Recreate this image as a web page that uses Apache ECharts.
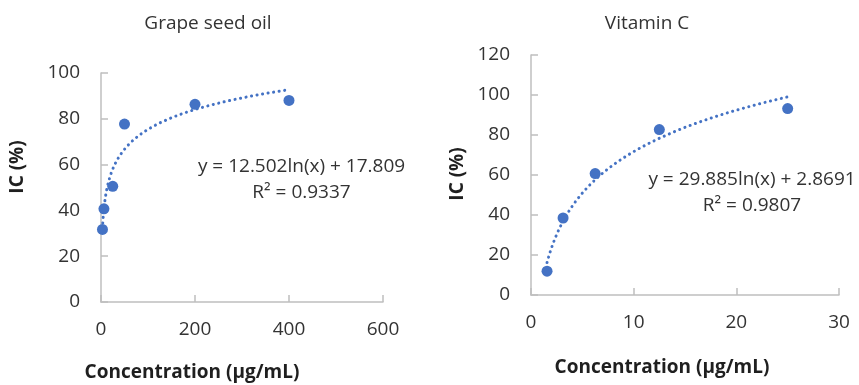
<!DOCTYPE html>
<html>
<head>
<meta charset="utf-8">
<script src="https://cdn.jsdelivr.net/npm/echarts/dist/echarts.min.js"></script>
<style>
html, body { margin: 0; padding: 0; background: #fff; }
#chart { width: 859px; height: 385px; }
</style>
</head>
<body>
<div id="chart"></div>
<script>
// Grape seed oil: concentration (µg/mL) vs IC (%)
const grapeConc = [3.125, 6.25, 25, 50, 200, 400];
const grapeIC = [31.7, 40.7, 50.5, 77.7, 86.3, 88.0];
const grapeFit = [12.502, 17.809]; // y = a ln(x) + b
const grapeR2 = '0.9337';
const grapeXRange = [0, 600, 200];
const grapeYRange = [0, 100, 20];

// Vitamin C
const vitConc = [1.5625, 3.125, 6.25, 12.5, 25];
const vitIC = [11.9, 38.5, 60.7, 82.7, 93.2];
const vitFit = [29.885, 2.8691];
const vitR2 = '0.9807';
const vitXRange = [0, 30, 10];
const vitYRange = [0, 120, 20];

const FONT = 'Open Sans';
const BLUE = '#4472C4';
const TXT = '#333333';

// trendline drawn from the equation printed on the chart, over the data's x span
function trendPoints(fit, xs) {
  const lo = Math.min(...xs), hi = Math.max(...xs);
  const pts = [];
  const n = 120;
  for (let i = 0; i <= n; i++) {
    const x = lo * Math.pow(hi / lo, i / n);
    pts.push([x, fit[0] * Math.log(x) + fit[1]]);
  }
  return pts;
}

function valueAxis(range, gridIndex, margin) {
  return {
    type: 'value',
    gridIndex: gridIndex,
    min: range[0],
    max: range[1],
    interval: range[2],
    axisLine: { show: true, onZero: false, lineStyle: { color: '#bfbfbf', width: 1.5 } },
    axisTick: { show: true, inside: true, length: 7, lineStyle: { color: '#bfbfbf', width: 1.5 } },
    splitLine: { show: false },
    axisLabel: { color: TXT, fontFamily: FONT, fontSize: 19, margin: margin }
  };
}

function txt(text, x, y, opts) {
  return {
    type: 'text',
    x: x,
    y: y,
    rotation: (opts && opts.rotation) || 0,
    style: {
      text: text,
      fill: (opts && opts.fill) || TXT,
      font: ((opts && opts.bold) ? 'bold ' : '') + ((opts && opts.size) || 19) + 'px "' + FONT + '"',
      textAlign: 'center',
      textVerticalAlign: 'middle'
    }
  };
}

function scatter(xs, ys, idx) {
  return {
    type: 'scatter',
    xAxisIndex: idx,
    yAxisIndex: idx,
    symbolSize: 11,
    itemStyle: { color: BLUE, opacity: 1 },
    data: xs.map((x, i) => [x, ys[i]]),
    z: 3
  };
}

function trend(fit, xs, idx) {
  return {
    type: 'line',
    xAxisIndex: idx,
    yAxisIndex: idx,
    showSymbol: false,
    symbol: 'none',
    smooth: false,
    lineStyle: { color: BLUE, width: 3, type: [0.1, 5.5], cap: 'round' },
    data: trendPoints(fit, xs),
    z: 2
  };
}

const myChart = echarts.init(document.getElementById('chart'));
const option = {
  animation: false,
  backgroundColor: '#fff',
  grid: [
    { left: 101, top: 73, width: 282, height: 229 },
    { left: 531, top: 55, width: 308, height: 240 }
  ],
  xAxis: [valueAxis(grapeXRange, 0, 18), valueAxis(vitXRange, 1, 18)],
  yAxis: [valueAxis(grapeYRange, 0, 21), valueAxis(vitYRange, 1, 21)],
  series: [
    trend(grapeFit, grapeConc, 0),
    scatter(grapeConc, grapeIC, 0),
    trend(vitFit, vitConc, 1),
    scatter(vitConc, vitIC, 1)
  ],
  graphic: [
    txt('Grape seed oil', 208, 24),
    txt('Vitamin C', 647, 24),
    txt('IC (%)', 18, 167, { bold: true, rotation: Math.PI / 2, fill: '#1f1f1f' }),
    txt('IC (%)', 458, 174, { bold: true, rotation: Math.PI / 2, fill: '#1f1f1f' }),
    txt('Concentration (µg/mL)', 192, 373, { bold: true, fill: '#1f1f1f' }),
    txt('Concentration (µg/mL)', 662, 368, { bold: true, fill: '#1f1f1f' }),
    txt('y = ' + grapeFit[0].toFixed(3) + 'ln(x) + ' + grapeFit[1].toFixed(3), 301.5, 167),
    txt('R² = ' + grapeR2, 301.5, 193),
    txt('y = ' + vitFit[0].toFixed(3) + 'ln(x) + ' + vitFit[1].toFixed(4), 752, 180),
    txt('R² = ' + vitR2, 752, 206)
  ]
};
myChart.setOption(option);
window.addEventListener('resize', function () {
  myChart.resize();
});
</script>
</body>
</html>
